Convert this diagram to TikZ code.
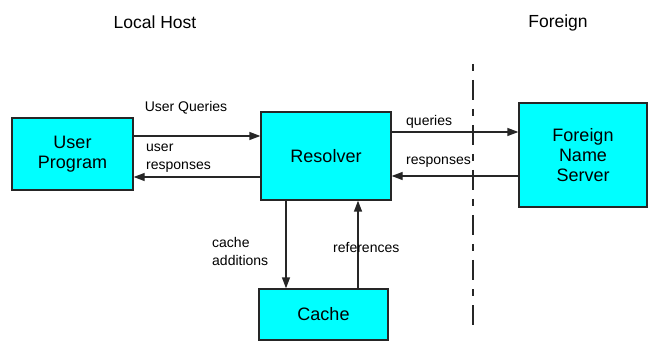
\documentclass[tikz,border=0pt]{standalone}
\usepackage{fontspec}
\setmainfont{Liberation Sans}
\usetikzlibrary{arrows.meta}
\definecolor{aqua}{RGB}{0,255,255}
\begin{document}
\begin{tikzpicture}[x=1pt,y=-1pt,
  box/.style={draw=black!85,line width=1.3pt,fill=aqua,inner sep=0pt,align=center,font=\fontsize{18}{20}\selectfont},
  lbl/.style={inner sep=0pt,font=\fontsize{14}{18}\selectfont,align=left},
  ttl/.style={inner sep=0pt,font=\fontsize{17.5}{20}\selectfont},
  conn/.style={line width=1.3pt,draw=black!85,-{Triangle[length=11pt,width=8pt]}}]
\useasboundingbox (0,0) rectangle (650,347);
% boxes
\node[box,minimum width=121pt,minimum height=72pt] (user) at (72.5,154) {User\\Program};
\node[box,minimum width=130pt,minimum height=88pt] (res) at (326,156) {Resolver};
\node[box,minimum width=129pt,minimum height=51pt] (cache) at (323.5,314.5) {Cache};
\node[box,minimum width=128pt,minimum height=104pt] (fns) at (583,155) {Foreign\\Name\\Server};
% titles
\node[ttl] (lh) at (155,22) {Local Host};
\node[ttl] (fr) at (558,23) {Foreign};
% boundary
\coordinate (dtop) at (473,64);
\coordinate (dbot) at (473,333);
\draw[line width=1.3pt,draw=black!85,dash pattern=on 7pt off 9pt on 20pt off 9pt] (dtop) -- (dbot);
% connectors
\draw[conn] (user.east |- 0,136) -- (res.west |- 0,136);
\draw[conn] (res.west |- 0,177) -- (user.east |- 0,177);
\draw[conn] (res.east |- 0,132) -- (fns.west |- 0,132);
\draw[conn] (fns.west |- 0,176) -- (res.east |- 0,176);
\draw[conn] (res.south -| 286,0) -- (cache.north -| 286,0);
\draw[conn] (cache.north -| 358,0) -- (res.south -| 358,0);
% labels
\node[lbl] (l1) at (186,108) {User Queries};
\node[lbl,anchor=west] (l2) at (146,158) {user\\responses};
\node[lbl,anchor=west] (l3) at (406,122) {queries};
\node[lbl,anchor=west] (l4) at (406,162) {responses};
\node[lbl,anchor=west] (l5) at (212,251) {cache\\additions};
\node[lbl,anchor=west] (l6) at (333,248) {references};
\end{tikzpicture}
\end{document}
